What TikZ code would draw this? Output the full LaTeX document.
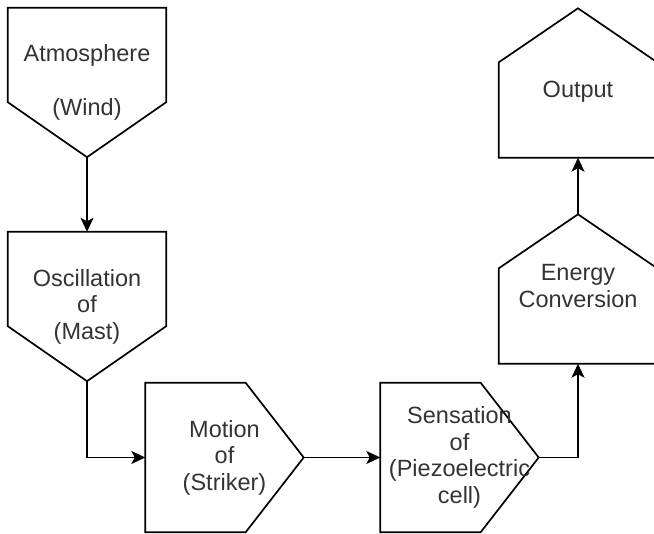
\documentclass[tikz,border=0pt]{standalone}
\usepackage{fontspec}
\setmainfont{Liberation Sans}
\usetikzlibrary{arrows.meta,positioning}
\definecolor{txtGray}{RGB}{51,51,51}

\begin{document}
\begin{tikzpicture}[x=1pt,y=-1pt,
    flowbox/.style={inner sep=0pt,align=center,text=txtGray,
      font=\fontsize{23.5}{26.5}\selectfont,minimum width=158pt,minimum height=149pt},
    downbox/.style={flowbox,append after command={\pgfextra{
      \draw[line width=1.7pt] (\tikzlastnode.north west) -- (\tikzlastnode.north east)
        -- ([yshift=55pt]\tikzlastnode.south east) -- (\tikzlastnode.south)
        -- ([yshift=55pt]\tikzlastnode.south west) -- cycle;}}},
    rightbox/.style={flowbox,append after command={\pgfextra{
      \draw[line width=1.7pt] (\tikzlastnode.north west) -- ([xshift=-58pt]\tikzlastnode.north east)
        -- (\tikzlastnode.east) -- ([xshift=-58pt]\tikzlastnode.south east)
        -- (\tikzlastnode.south west) -- cycle;}}},
    upbox/.style={flowbox,append after command={\pgfextra{
      \draw[line width=1.7pt] (\tikzlastnode.south west) -- (\tikzlastnode.south east)
        -- ([yshift=-54pt]\tikzlastnode.north east) -- (\tikzlastnode.north)
        -- ([yshift=-54pt]\tikzlastnode.north west) -- cycle;}}},
    arrow/.style={-{Stealth[length=14pt,width=13pt,inset=3.5pt]},line width=1.7pt}
  ]
  \useasboundingbox (0,0) rectangle (654,534);
  \node[downbox] (atm) at (87,82.5) {Atmosphere\\[1pt]\mbox{}\\(Wind)};
  \node[downbox] (osc) at (87,306.5) {Oscillation\\of\\(Mast)};
  \node[rightbox] (mot) at (224.5,457.5) {Motion\\of\\(Striker)};
  \node[rightbox] (sen) at (459.5,457.5) {Sensation\\of\\(Piezoelectric\\cell)};
  \node[upbox] (eng) at (578,289) {\raisebox{3pt}[\height][\depth]{Energy}\\\raisebox{3pt}[\height][\depth]{Conversion}};
  \node[upbox] (out) at (578,83) {\raisebox{-9pt}[\height][\depth]{Output}};
  \draw[arrow] (atm.south) -- (osc.north);
  \draw[arrow] (osc.south) |- (mot.west);
  \draw[arrow] (mot.east) -- (sen.west);
  \draw[arrow] (sen.east) -| (eng.south);
  \draw[arrow] (eng.north) -- (out.south);
\end{tikzpicture}
\end{document}
